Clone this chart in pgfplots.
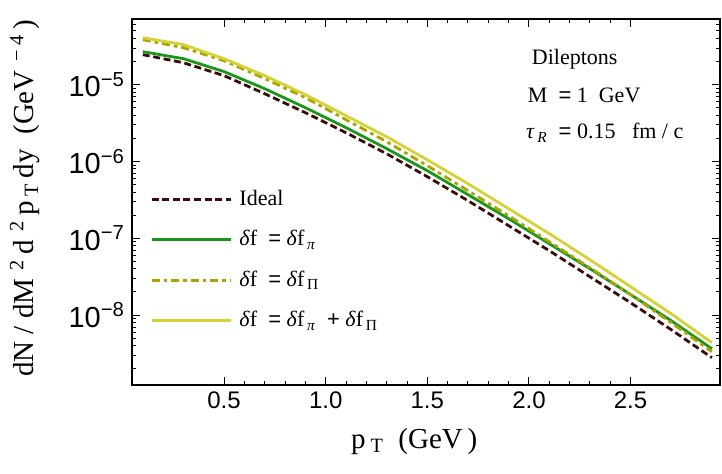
\documentclass[border=0pt]{standalone}
\usepackage{fontspec}
\setmainfont{Liberation Serif}
\setsansfont{Liberation Sans}
\usepackage{pgfplots}
\pgfplotsset{compat=1.18}
\definecolor{ideal}{HTML}{3B0B0B}
\definecolor{dfpi}{HTML}{1A961A}
\definecolor{dfPi}{HTML}{ABA300}
\definecolor{dfboth}{HTML}{D4D236}
\newcommand\tl[1]{10\textsuperscript{−#1}}
\newcommand\fs[1]{\fontsize{#1}{#1}\selectfont}

\begin{document}
\begin{tikzpicture}
\useasboundingbox (-66pt,-44pt) rectangle (295pt,192.5pt);
\begin{axis}[scale only axis,width=294pt,height=183pt,
  ymode=log,xmin=0.047,xmax=2.94,ymin=1.23e-9,ymax=7.16e-5,
  axis line style={line width=0.9pt},
  tick style={line width=0.5pt,black},
  major tick length=4pt,minor tick length=2pt,
  xtick={0.5,1.0,1.5,2.0,2.5},minor x tick num=4,
  ytick={1e-8,1e-7,1e-6,1e-5},
  yticklabels={\tl{8},\tl{7},\tl{6},\tl{5}},
  minor ytick={2e-9,3e-9,4e-9,5e-9,6e-9,7e-9,8e-9,9e-9,
    2e-8,3e-8,4e-8,5e-8,6e-8,7e-8,8e-8,9e-8,
    2e-7,3e-7,4e-7,5e-7,6e-7,7e-7,8e-7,9e-7,
    2e-6,3e-6,4e-6,5e-6,6e-6,7e-6,8e-6,9e-6,
    2e-5,3e-5,4e-5,5e-5,6e-5,7e-5},
  /pgf/number format/assume math mode=true,
  xticklabel style={font=\sffamily\fs{12},/pgf/number format/.cd,fixed,fixed zerofill,precision=1},
  yticklabel style={font=\sffamily\fs{14.5}},
  xlabel={p\,\textsubscript{T}\ \ (GeV\,)},
  ylabel={dN / dM\,\textsuperscript{\,2}\,d\,\textsuperscript{\,2}\,p\,\textsubscript{T}\,dy\ \ (GeV\,\textsuperscript{\,− 4}\,)},
  label style={font=\fs{14.5}},
  xlabel style={at={(axis description cs:0.48,0)},anchor=north,yshift=-18pt},
  ylabel style={at={(axis description cs:-0.182,0.51)},anchor=center},
  legend style={at={(axis description cs:0.02,0.55)},anchor=north west,draw=none,fill=none,
    font=\fs{11},row sep=9pt,nodes={inner sep=1pt}},
  legend cell align=left,
  legend image code/.code={\draw[#1] (0pt,0pt) -- (39.5pt,0pt);},
]
\addplot[ideal,line width=1.4pt,dash pattern=on 3.5pt off 1.8pt] coordinates {
(0.1,2.46e-5)(0.3,1.93e-5)(0.5,1.31e-5)(0.7,7.63e-6)(0.9,4.32e-6)(1.1,2.37e-6)(1.3,1.26e-6)
(1.5,6.34e-7)(1.7,3.09e-7)(1.9,1.46e-7)(2.1,6.90e-8)(2.3,3.16e-8)(2.5,1.45e-8)(2.7,6.46e-9)(2.9,2.79e-9)};
\addlegendentry{\ Ideal}
\addplot[dfpi,line width=1.4pt] coordinates {
(0.1,2.69e-5)(0.3,2.18e-5)(0.5,1.48e-5)(0.7,8.87e-6)(0.9,5.02e-6)(1.1,2.76e-6)(1.3,1.47e-6)
(1.5,7.59e-7)(1.7,3.70e-7)(1.9,1.80e-7)(2.1,8.51e-8)(2.3,4.02e-8)(2.5,1.85e-8)(2.7,8.45e-9)(2.9,3.65e-9)};
\addlegendentry{\ \textit{δ}f\ \ {\sffamily =}\ \textit{δ}f\textsubscript{\,\textit{π}}}
\addplot[dfPi,line width=1.4pt,dash pattern=on 4pt off 2pt on 1.8pt off 2pt] coordinates {
(0.1,3.85e-5)(0.3,3.03e-5)(0.5,2.05e-5)(0.7,1.20e-5)(0.9,6.78e-6)(1.1,3.50e-6)(1.3,1.81e-6)
(1.5,8.81e-7)(1.7,4.17e-7)(1.9,1.97e-7)(2.1,9.03e-8)(2.3,4.14e-8)(2.5,1.85e-8)(2.7,7.96e-9)(2.9,3.33e-9)};
\addlegendentry{\ \textit{δ}f\ \ {\sffamily =}\ \textit{δ}f\textsubscript{\,Π}}
\addplot[dfboth,line width=1.4pt] coordinates {
(0.1,4.09e-5)(0.3,3.32e-5)(0.5,2.18e-5)(0.7,1.31e-5)(0.9,7.41e-6)(1.1,3.95e-6)(1.3,2.10e-6)
(1.5,1.05e-6)(1.7,5.14e-7)(1.9,2.43e-7)(2.1,1.15e-7)(2.3,5.26e-8)(2.5,2.34e-8)(2.7,1.04e-8)(2.9,4.38e-9)};
\addlegendentry{\ \textit{δ}f\ \ {\sffamily =}\ \textit{δ}f\textsubscript{\,\textit{π}}\ \ {\sffamily +}\ \textit{δ}f\textsubscript{\,Π}}
\node[font=\fs{11}] at (axis description cs:0.753,0.891) {Dileptons};
\node[font=\fs{11}] at (axis description cs:0.769,0.79) {M\ \ {\sffamily =}\ 1\ \ GeV};
\node[font=\fs{11}] at (axis description cs:0.804,0.689) {\textit{τ}\textsubscript{\,\textit{R}}\ \ {\sffamily =}\ 0.15\ \ \ fm / c};
\end{axis}
\end{tikzpicture}
\end{document}
